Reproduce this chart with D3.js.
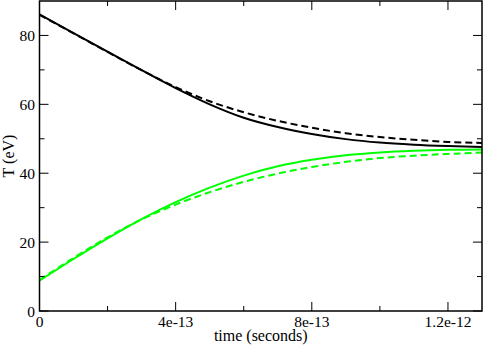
<!DOCTYPE html>
<html><head><meta charset="utf-8">
<script src="https://cdn.jsdelivr.net/npm/d3@7"></script>
<style>body{margin:0;background:#fff}svg{display:block}
text{font-family:"Liberation Serif","Tinos","Nimbus Roman","Nimbus Roman No9 L","FreeSerif","Times New Roman","Times","DejaVu Serif",serif}</style>
</head><body>
<script>
// time in seconds
const times = [0,1e-13,2e-13,3e-13,4e-13,5e-13,6e-13,7e-13,8e-13,9e-13,1e-12,1.1e-12,1.2e-12,1.3e-12];
const blackSolid  = [86.1,80.7,75.3,69.9,64.7,60.0,56.1,53.4,51.4,49.9,48.9,48.3,47.9,47.6];
const blackDashed = [86.0,80.6,75.2,69.9,65.0,60.9,57.7,55.2,53.2,51.6,50.5,49.7,49.1,48.8];
const greenSolid  = [8.8,15.1,21.1,26.7,31.6,35.8,39.3,42.0,43.9,45.2,46.0,46.5,46.8,46.9];
const greenDashed = [9.0,15.4,21.4,26.6,30.9,34.5,37.5,39.9,41.8,43.3,44.4,45.1,45.6,46.0];
const xTicks = [0,4e-13,8e-13,1.2e-12];
const xTickLabels = ["0","4e-13","8e-13","1.2e-12"];
const xMinor = [2e-13,6e-13,1e-12];
const yTicks = [0,20,40,60,80];
const yMinor = [10,30,50,70];
const xLabel = "time (seconds)";
const yLabel = "T (eV)";

const W=485,H=346;
const L=39.5,R=482,T=1,B=311;
const svg=d3.select("body").append("svg").attr("width",W).attr("height",H);
const x=d3.scaleLinear().domain([0,1.3e-12]).range([L,R]);
const y=d3.scaleLinear().domain([0,90]).range([B,T]);

svg.append("clipPath").attr("id","c").append("rect").attr("x",L).attr("y",T).attr("width",R-L).attr("height",B-T);

const series=[
 {v:blackSolid,c:"#000",d:null},
 {v:blackDashed,c:"#000",d:"7,4"},
 {v:greenSolid,c:"#00ff00",d:null},
 {v:greenDashed,c:"#00ff00",d:"7,4"}
];
const line=d3.line().curve(d3.curveMonotoneX);
const g=svg.append("g").attr("clip-path","url(#c)");
series.forEach(s=>{
  g.append("path").attr("d",line(times.map((t,i)=>[x(t),y(s.v[i])])))
   .attr("fill","none").attr("stroke",s.c).attr("stroke-width",2)
   .attr("stroke-dasharray",s.d);
});

function ticks(vals,len,isX){
  vals.forEach(v=>{
    if(isX){
      const px=x(v);
      svg.append("line").attr("x1",px).attr("x2",px).attr("y1",B).attr("y2",B-len).attr("stroke","#000").attr("stroke-width",1);
      svg.append("line").attr("x1",px).attr("x2",px).attr("y1",T).attr("y2",T+len).attr("stroke","#000").attr("stroke-width",1);
    } else {
      const py=y(v);
      svg.append("line").attr("x1",L).attr("x2",L+len).attr("y1",py).attr("y2",py).attr("stroke","#000").attr("stroke-width",1);
      svg.append("line").attr("x1",R).attr("x2",R-len).attr("y1",py).attr("y2",py).attr("stroke","#000").attr("stroke-width",1);
    }
  });
}
ticks(xTicks,9,true); ticks(xMinor,5,true);
ticks(yTicks,9,false); ticks(yMinor,5,false);

svg.append("rect").attr("x",L).attr("y",T).attr("width",R-L).attr("height",B-T)
  .attr("fill","none").attr("stroke","#000").attr("stroke-width",1.5);

xTicks.forEach((v,i)=>{
  svg.append("text").attr("x",x(v)).attr("y",327).attr("text-anchor","middle")
   .attr("font-size",15.5).text(xTickLabels[i]);
});
yTicks.forEach(v=>{
  svg.append("text").attr("x",35).attr("y",y(v)+5.5).attr("text-anchor","end")
   .attr("font-size",15.5).text(v);
});
svg.append("text").attr("x",(L+R)/2).attr("y",341).attr("text-anchor","middle")
  .attr("font-size",16).text(xLabel);
svg.append("text").attr("transform",`translate(14,${(T+B)/2}) rotate(-90)`).attr("text-anchor","middle")
  .attr("font-size",16).text(yLabel);
</script>
</body></html>
